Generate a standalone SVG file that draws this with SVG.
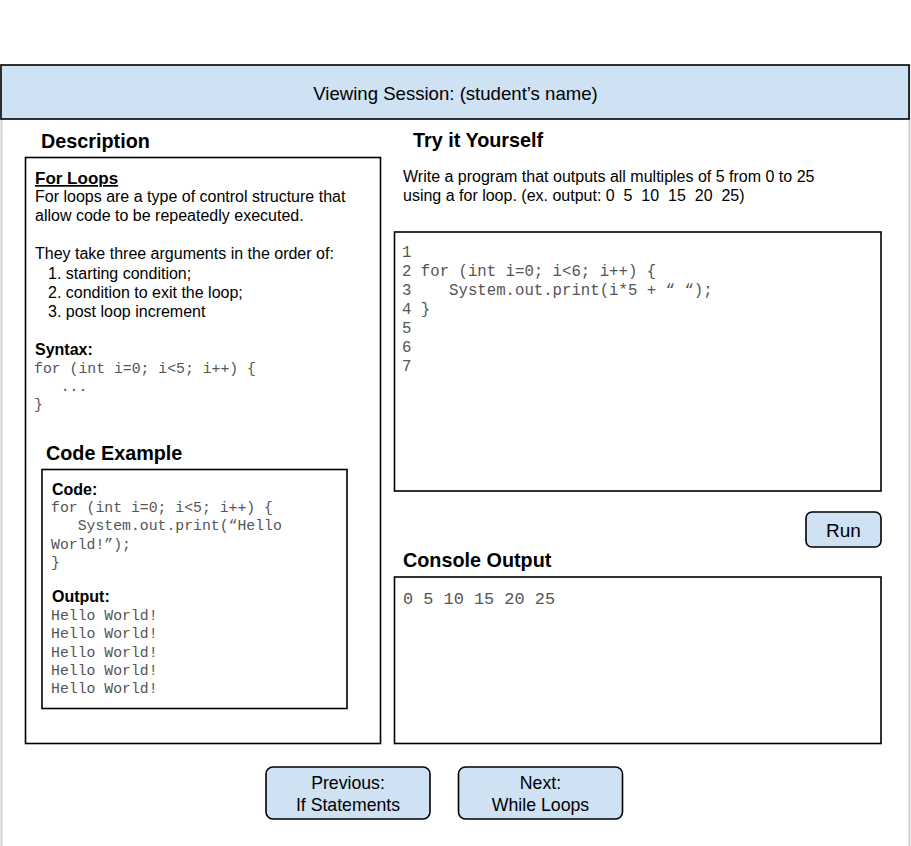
<svg xmlns="http://www.w3.org/2000/svg" width="911" height="846" viewBox="0 0 911 846">
<style>
.box{fill:#fff;stroke:#000;stroke-width:1.6}
.blue{fill:#cfe2f3;stroke:#000;stroke-width:1.6}
.h{font-family:"Liberation Sans",Arial,sans-serif;font-weight:bold;font-size:19.8px;fill:#000}
.t{font-family:"Liberation Sans",Arial,sans-serif;font-size:16px;fill:#000}
.b{font-family:"Liberation Sans",Arial,sans-serif;font-size:16px;font-weight:bold;fill:#000}
.m{font-family:"Liberation Mono","Courier New",monospace;fill:#555;white-space:pre}
.btn{font-family:"Liberation Sans",Arial,sans-serif;font-size:17.7px;fill:#000;text-anchor:middle}
</style>
<rect width="911" height="846" fill="#fff"/>
<g id="page-border">
<line x1="1.5" y1="64" x2="1.5" y2="846" stroke="#d0d0d0" stroke-width="2"/>
<line x1="909.5" y1="64" x2="909.5" y2="846" stroke="#d0d0d0" stroke-width="2"/>
</g>
<g id="header">
<rect class="blue" x="1" y="65" width="908" height="54"/>
<text class="t" x="455.5" y="100" text-anchor="middle" style="font-size:18.6px">Viewing Session: (student’s name)</text>
</g>
<g id="description">
<text class="h" x="41" y="148">Description</text>
<rect class="box" x="25.5" y="157.5" width="355" height="586"/>
<text class="b" x="35" y="184" style="font-size:17px;text-decoration:underline">For Loops</text>
<text class="t" x="35" y="202">For loops are a type of control structure that</text>
<text class="t" x="35" y="221">allow code to be repeatedly executed.</text>
<text class="t" x="35" y="259">They take three arguments in the order of:</text>
<text class="t" x="48" y="279">1. starting condition;</text>
<text class="t" x="48" y="298">2. condition to exit the loop;</text>
<text class="t" x="48" y="317">3. post loop increment</text>
<text class="b" x="35" y="355">Syntax:</text>
<text class="m" x="34" y="373" style="font-size:14.8px">for (int i=0; i&lt;5; i++) {</text>
<text class="m" x="34" y="391" style="font-size:14.8px" xml:space="preserve">   ...</text>
<text class="m" x="34" y="409" style="font-size:14.8px">}</text>
</g>
<g id="code-example">
<text class="h" x="46" y="460">Code Example</text>
<rect class="box" x="42" y="469.5" width="305" height="239"/>
<text class="b" x="52" y="495">Code:</text>
<text class="m" x="51" y="511.5" style="font-size:14.8px">for (int i=0; i&lt;5; i++) {</text>
<text class="m" x="51" y="530" style="font-size:14.8px" xml:space="preserve">   System.out.print(“Hello</text>
<text class="m" x="51" y="548.5" style="font-size:14.8px">World!”);</text>
<text class="m" x="51" y="567" style="font-size:14.8px">}</text>
<text class="b" x="52" y="602">Output:</text>
<text class="m" x="51" y="620" style="font-size:14.8px">Hello World!</text>
<text class="m" x="51" y="638.3" style="font-size:14.8px">Hello World!</text>
<text class="m" x="51" y="656.6" style="font-size:14.8px">Hello World!</text>
<text class="m" x="51" y="674.9" style="font-size:14.8px">Hello World!</text>
<text class="m" x="51" y="693" style="font-size:14.8px">Hello World!</text>
</g>
<g id="try-it-yourself">
<text class="h" x="413" y="147">Try it Yourself</text>
<text class="t" x="403" y="182">Write a program that outputs all multiples of 5 from 0 to 25</text>
<text class="t" x="403" y="201" xml:space="preserve" style="white-space:pre">using a for loop. (ex. output: 0  5  10  15  20  25)</text>
</g>
<g id="editor">
<rect class="box" x="394.5" y="232" width="486.5" height="259"/>
<text class="m" x="402" y="257" style="font-size:15.7px">1</text>
<text class="m" x="402" y="276" style="font-size:15.7px">2 for (int i=0; i&lt;6; i++) {</text>
<text class="m" x="402" y="295" style="font-size:15.7px" xml:space="preserve">3    System.out.print(i*5 + “ “);</text>
<text class="m" x="402" y="313.5" style="font-size:15.7px">4 }</text>
<text class="m" x="402" y="332.5" style="font-size:15.7px">5</text>
<text class="m" x="402" y="351.5" style="font-size:15.7px">6</text>
<text class="m" x="402" y="370.5" style="font-size:15.7px">7</text>
</g>
<g id="run-button">
<rect class="blue" x="806" y="512" width="75" height="35" rx="6"/>
<text class="btn" x="843.5" y="536.5" style="font-size:19px">Run</text>
</g>
<g id="console">
<text class="h" x="403" y="567">Console Output</text>
<rect class="box" x="394.5" y="577" width="486.5" height="166.5"/>
<text class="m" x="403" y="604" style="font-size:16.9px">0 5 10 15 20 25</text>
</g>
<g id="previous-button">
<rect class="blue" x="266" y="767" width="164" height="52" rx="7"/>
<text class="btn" x="348" y="789">Previous:</text>
<text class="btn" x="348" y="811">If Statements</text>
</g>
<g id="next-button">
<rect class="blue" x="458.5" y="767" width="164" height="52" rx="7"/>
<text class="btn" x="540.5" y="789">Next:</text>
<text class="btn" x="540.5" y="811">While Loops</text>
</g>
</svg>
